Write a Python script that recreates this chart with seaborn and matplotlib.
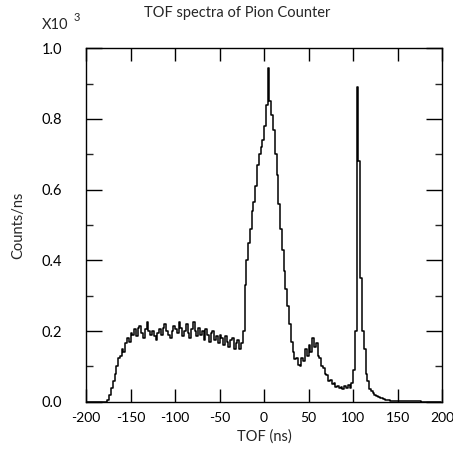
# TOF spectrum of the pion counter, redrawn from the published figure
import numpy as np
import matplotlib
matplotlib.use("Agg")
import matplotlib.pyplot as plt
import seaborn as sns

# bin starts (2 ns bins) and counts/ns in units of 10^3
bin_start = np.arange(-200, 200, 2)
counts = [
    # -200 .. -178
    0, 0, 0, 0, 0, 0, 0, 0, 0, 0, 0, 0,
    # -176 .. -150
    0.005, 0.02, 0.04, 0.06, 0.08, 0.10, 0.125, 0.13, 0.15, 0.14, 0.165, 0.18, 0.17, 0.195,
    # -148 .. -100
    0.19, 0.205, 0.185, 0.21, 0.215, 0.195, 0.18, 0.205, 0.225, 0.20, 0.19, 0.20, 0.185,
    0.175, 0.195, 0.205, 0.19, 0.21, 0.22, 0.20, 0.19, 0.18, 0.20, 0.215, 0.205,
    # -98 .. -50
    0.195, 0.225, 0.21, 0.185, 0.20, 0.22, 0.195, 0.18, 0.205, 0.225, 0.20, 0.185, 0.21,
    0.19, 0.20, 0.175, 0.205, 0.19, 0.17, 0.195, 0.20, 0.175, 0.185, 0.165, 0.19,
    # -48 .. -26
    0.18, 0.16, 0.185, 0.17, 0.155, 0.175, 0.18, 0.15, 0.165, 0.175, 0.15, 0.165,
    # -24 .. 24
    0.20, 0.33, 0.40, 0.45, 0.49, 0.54, 0.565, 0.61, 0.67, 0.70, 0.72, 0.74, 0.78,
    0.84, 0.945, 0.85, 0.81, 0.77, 0.70, 0.64, 0.56, 0.49, 0.43, 0.37, 0.32,
    # 26 .. 72
    0.27, 0.22, 0.17, 0.14, 0.12, 0.125, 0.105, 0.10, 0.125, 0.115, 0.15, 0.13, 0.16,
    0.14, 0.18, 0.155, 0.165, 0.13, 0.125, 0.10, 0.095, 0.08, 0.075, 0.06,
    # 74 .. 100
    0.062, 0.05, 0.052, 0.042, 0.046, 0.038, 0.042, 0.035, 0.044, 0.038, 0.047, 0.04, 0.052, 0.09,
    # 102 .. 142
    0.20, 0.89, 0.68, 0.35, 0.20, 0.15, 0.08, 0.06, 0.035, 0.03, 0.025, 0.02, 0.016,
    0.014, 0.012, 0.01, 0.008, 0.006, 0.005, 0.004, 0.003,
    # 144 .. 198
    0.002, 0.002, 0.002, 0.002, 0.002, 0.002, 0.002, 0.002, 0.002, 0.002, 0.002, 0.002,
    0.002, 0.002, 0.002, 0.002, 0, 0, 0, 0, 0, 0, 0, 0, 0, 0, 0, 0,
]

x_ticks = [-200, -150, -100, -50, 0, 50, 100, 150, 200]
y_ticks = [0.0, 0.2, 0.4, 0.6, 0.8, 1.0]

sns.set_style("ticks")
plt.rcParams["font.family"] = ["Lato", "DejaVu Sans"]
plt.rcParams["axes.unicode_minus"] = False

fig = plt.figure(figsize=(4.53, 4.5), dpi=100)
ax = fig.add_axes([0.19, 0.107, 0.786, 0.786])

sns.lineplot(x=bin_start + 1, y=counts, ax=ax, color="black", lw=1.1,
             drawstyle="steps-mid", estimator=None)

ax.set_xlim(-200, 200)
ax.set_ylim(0, 1.0)
ax.set_xticks(x_ticks)
ax.set_yticks(y_ticks)
ax.set_xticklabels([str(t) for t in x_ticks])
ax.set_yticklabels([f"{t:.1f}" for t in y_ticks])
ax.set_yticks(np.arange(0.1, 1.0, 0.2), minor=True)

for s in ax.spines.values():
    s.set_visible(True)
    s.set_color("black")
    s.set_linewidth(1.0)

ax.tick_params(axis="x", which="major", direction="in", length=9.5, width=1,
               top=True, labelsize=10, pad=7, colors="black")
ax.tick_params(axis="y", which="major", direction="in", length=11.5, width=1,
               right=True, labelsize=10.5, pad=17, colors="black")
ax.tick_params(axis="y", which="minor", direction="in", length=5, width=1,
               right=True)
ax.tick_params(axis="x", which="minor", bottom=False, top=False)

ax.set_xlabel("TOF (ns)", fontsize=10.5, labelpad=4)
ax.set_ylabel("Counts/ns", fontsize=10.5, labelpad=12)
fig.text(0.523, 0.972, "TOF spectra of Pion Counter", ha="center", va="center",
         fontsize=10.5)
fig.text(0.092, 0.945, "X10", ha="left", va="center", fontsize=10.5)
fig.text(0.162, 0.962, "3", ha="left", va="center", fontsize=8)

fig.savefig("out.png", dpi=100)
